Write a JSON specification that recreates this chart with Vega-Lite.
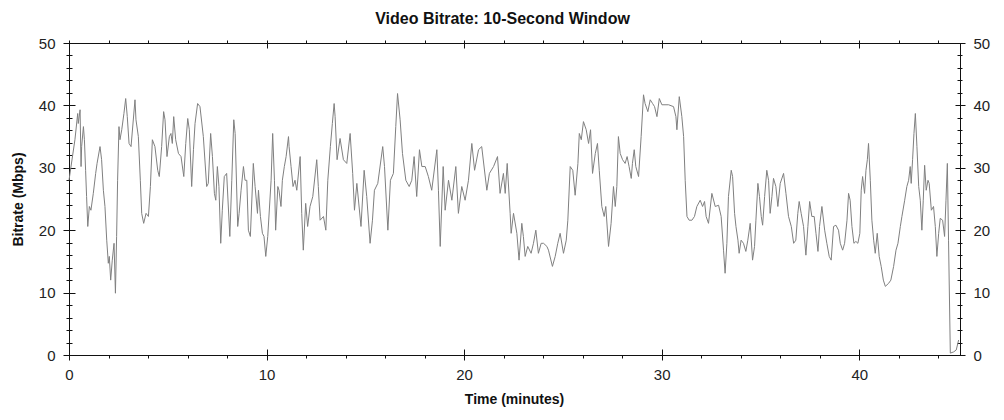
{
"$schema": "https://vega.github.io/schema/vega-lite/v6.json",
"autosize": {"type": "none"},
"padding": {"left": 69, "top": 43, "right": 44, "bottom": 65},
"width": 891,
"height": 312,
"background": "#ffffff",
"title": {"text": "Video Bitrate: 10-Second Window", "fontSize": 16, "fontWeight": "bold", "font": "Liberation Sans", "anchor": "middle", "dx": -12, "offset": 1, "baseline": "middle", "color": "#111"},
"data": {"values": [
{"t":0,"v":28.0},{"t":0.30,"v":34.5},{"t":0.44,"v":38.7},{"t":0.47,"v":37.1},{"t":0.56,"v":39.3},{"t":0.61,"v":30.2},{"t":0.64,"v":33.4},{"t":0.73,"v":36.6},{"t":0.78,"v":34.5},{"t":0.84,"v":29.6},{"t":0.89,"v":25.4},{"t":0.95,"v":20.6},{"t":1.03,"v":23.8},{"t":1.11,"v":23.2},{"t":1.23,"v":25.9},{"t":1.35,"v":29.1},{"t":1.42,"v":30.7},{"t":1.57,"v":33.4},{"t":1.65,"v":31.3},{"t":1.74,"v":26.4},{"t":1.82,"v":23.8},{"t":1.91,"v":18.4},{"t":1.99,"v":14.7},{"t":2.04,"v":15.8},{"t":2.11,"v":12.0},{"t":2.19,"v":15.2},{"t":2.28,"v":17.9},{"t":2.35,"v":9.9},{"t":2.41,"v":19.0},{"t":2.46,"v":28.0},{"t":2.53,"v":36.6},{"t":2.58,"v":34.5},{"t":2.67,"v":36.1},{"t":2.78,"v":38.7},{"t":2.87,"v":41.1},{"t":2.95,"v":38.2},{"t":3.04,"v":33.9},{"t":3.14,"v":33.4},{"t":3.34,"v":40.9},{"t":3.39,"v":37.7},{"t":3.51,"v":35.0},{"t":3.61,"v":28.0},{"t":3.68,"v":22.7},{"t":3.78,"v":21.1},{"t":3.90,"v":22.7},{"t":4.02,"v":22.2},{"t":4.12,"v":27.0},{"t":4.22,"v":34.5},{"t":4.35,"v":33.4},{"t":4.49,"v":29.6},{"t":4.57,"v":28.6},{"t":4.69,"v":33.4},{"t":4.79,"v":39.0},{"t":4.86,"v":37.7},{"t":4.96,"v":31.8},{"t":5.08,"v":35.0},{"t":5.16,"v":35.5},{"t":5.23,"v":33.9},{"t":5.30,"v":38.2},{"t":5.40,"v":34.5},{"t":5.54,"v":32.3},{"t":5.67,"v":31.8},{"t":5.81,"v":28.6},{"t":5.91,"v":33.9},{"t":6.01,"v":37.9},{"t":6.09,"v":36.1},{"t":6.21,"v":27.0},{"t":6.30,"v":32.9},{"t":6.38,"v":37.1},{"t":6.51,"v":40.3},{"t":6.63,"v":39.8},{"t":6.80,"v":35.0},{"t":6.97,"v":27.0},{"t":7.05,"v":27.5},{"t":7.17,"v":35.5},{"t":7.26,"v":31.8},{"t":7.36,"v":25.9},{"t":7.43,"v":24.8},{"t":7.51,"v":30.2},{"t":7.59,"v":27.0},{"t":7.68,"v":17.9},{"t":7.76,"v":23.2},{"t":7.86,"v":28.6},{"t":7.98,"v":29.1},{"t":8.14,"v":19.0},{"t":8.24,"v":28.0},{"t":8.34,"v":37.7},{"t":8.41,"v":35.5},{"t":8.54,"v":20.6},{"t":8.61,"v":22.7},{"t":8.71,"v":26.4},{"t":8.83,"v":30.2},{"t":8.91,"v":28.0},{"t":9.00,"v":28.0},{"t":9.08,"v":20.0},{"t":9.18,"v":19.0},{"t":9.33,"v":30.7},{"t":9.42,"v":27.0},{"t":9.54,"v":22.7},{"t":9.59,"v":26.4},{"t":9.69,"v":22.2},{"t":9.79,"v":19.5},{"t":9.87,"v":19.0},{"t":9.96,"v":15.8},{"t":10.06,"v":19.0},{"t":10.23,"v":28.0},{"t":10.31,"v":35.5},{"t":10.40,"v":28.0},{"t":10.46,"v":20.0},{"t":10.57,"v":27.0},{"t":10.63,"v":26.4},{"t":10.73,"v":23.8},{"t":10.80,"v":28.0},{"t":10.90,"v":30.2},{"t":10.99,"v":31.8},{"t":11.11,"v":35.0},
{"t":11.14,"v":33.4},{"t":11.24,"v":30.2},{"t":11.34,"v":27.0},{"t":11.44,"v":28.0},{"t":11.53,"v":26.4},{"t":11.70,"v":31.8},{"t":11.78,"v":22.7},{"t":11.86,"v":16.8},{"t":11.98,"v":24.3},{"t":12.08,"v":20.6},{"t":12.20,"v":23.8},{"t":12.34,"v":25.4},{"t":12.54,"v":31.3},{"t":12.62,"v":27.0},{"t":12.71,"v":21.6},{"t":12.88,"v":22.2},{"t":13.00,"v":20.0},{"t":13.10,"v":28.0},{"t":13.23,"v":33.4},{"t":13.33,"v":37.1},{"t":13.42,"v":40.3},{"t":13.47,"v":38.2},{"t":13.57,"v":31.3},{"t":13.72,"v":34.7},{"t":13.89,"v":31.3},{"t":14.06,"v":30.7},{"t":14.23,"v":35.5},{"t":14.36,"v":29.1},{"t":14.45,"v":23.2},{"t":14.57,"v":27.5},{"t":14.78,"v":20.6},{"t":14.94,"v":29.6},{"t":15.07,"v":25.4},{"t":15.24,"v":17.9},{"t":15.36,"v":21.6},{"t":15.46,"v":26.4},{"t":15.63,"v":27.5},{"t":15.88,"v":33.4},{"t":15.97,"v":30.2},{"t":16.14,"v":20.0},{"t":16.27,"v":28.0},{"t":16.42,"v":29.1},{"t":16.54,"v":36.6},{"t":16.63,"v":41.9},{"t":16.76,"v":37.7},{"t":16.88,"v":32.3},{"t":17.05,"v":28.0},{"t":17.22,"v":27.0},{"t":17.35,"v":28.0},{"t":17.47,"v":31.8},{"t":17.60,"v":25.4},{"t":17.74,"v":32.9},{"t":17.86,"v":30.2},{"t":18.03,"v":30.2},{"t":18.19,"v":28.6},{"t":18.36,"v":26.4},{"t":18.62,"v":32.9},{"t":18.70,"v":26.4},{"t":18.79,"v":17.4},{"t":18.94,"v":30.2},{"t":19.04,"v":23.2},{"t":19.21,"v":28.0},{"t":19.38,"v":24.8},{"t":19.58,"v":30.2},{"t":19.71,"v":22.7},{"t":19.88,"v":27.0},{"t":20.05,"v":24.8},{"t":20.22,"v":28.0},{"t":20.39,"v":33.9},{"t":20.53,"v":29.6},{"t":20.73,"v":32.9},{"t":20.89,"v":33.4},{"t":21.15,"v":26.4},{"t":21.28,"v":29.1},{"t":21.49,"v":30.2},{"t":21.69,"v":31.8},{"t":21.82,"v":25.9},{"t":21.99,"v":29.1},{"t":22.08,"v":25.9},{"t":22.18,"v":30.7},
{"t":22.33,"v":22.7},{"t":22.38,"v":19.5},{"t":22.50,"v":22.7},{"t":22.67,"v":19.5},{"t":22.78,"v":15.2},{"t":22.92,"v":21.1},{"t":23.00,"v":19.0},{"t":23.09,"v":15.8},{"t":23.22,"v":17.4},{"t":23.39,"v":16.3},{"t":23.51,"v":17.9},{"t":23.63,"v":20.0},{"t":23.76,"v":16.3},{"t":23.90,"v":17.9},{"t":24.02,"v":17.9},{"t":24.19,"v":17.4},{"t":24.27,"v":16.8},{"t":24.47,"v":14.2},{"t":24.61,"v":15.8},{"t":24.74,"v":17.9},{"t":24.86,"v":19.5},{"t":25.03,"v":16.3},{"t":25.17,"v":18.4},{"t":25.25,"v":21.6},{"t":25.37,"v":30.2},{"t":25.50,"v":29.6},{"t":25.62,"v":25.6},{"t":25.76,"v":30.7},{"t":25.83,"v":35.5},{"t":25.93,"v":34.5},{"t":26.04,"v":37.4},{"t":26.18,"v":36.1},{"t":26.30,"v":33.9},{"t":26.40,"v":36.1},{"t":26.50,"v":29.1},{"t":26.64,"v":32.3},{"t":26.75,"v":33.9},{"t":26.84,"v":29.6},{"t":26.97,"v":23.8},{"t":27.09,"v":22.2},{"t":27.17,"v":23.8},{"t":27.31,"v":17.4},{"t":27.44,"v":21.1},{"t":27.56,"v":27.0},{"t":27.65,"v":23.8},{"t":27.73,"v":27.0},{"t":27.81,"v":35.0},{"t":27.90,"v":32.3},{"t":28.02,"v":31.3},{"t":28.15,"v":30.7},{"t":28.25,"v":31.8},{"t":28.35,"v":30.2},{"t":28.46,"v":28.3},{"t":28.52,"v":30.7},{"t":28.61,"v":32.9},{"t":28.69,"v":30.2},{"t":28.83,"v":28.6},{"t":28.96,"v":35.0},{"t":29.08,"v":41.7},{"t":29.16,"v":40.3},{"t":29.30,"v":39.0},{"t":29.42,"v":40.9},{"t":29.54,"v":40.3},{"t":29.64,"v":39.8},{"t":29.76,"v":38.2},{"t":29.88,"v":41.1},{"t":30.01,"v":40.1},{"t":30.35,"v":40.1},{"t":30.60,"v":39.8},{"t":30.72,"v":38.2},{"t":30.77,"v":36.1},{"t":30.89,"v":41.4},{"t":31.02,"v":38.2},{"t":31.11,"v":35.0},{"t":31.19,"v":28.0},{"t":31.28,"v":22.2},{"t":31.39,"v":21.6},{"t":31.53,"v":21.6},{"t":31.66,"v":22.2},{"t":31.78,"v":23.8},{"t":31.95,"v":24.8},{"t":32.07,"v":23.8},{"t":32.17,"v":24.6},{"t":32.25,"v":22.2},{"t":32.37,"v":21.1},{"t":32.54,"v":25.9},{"t":32.71,"v":23.8},{"t":32.88,"v":24.0},{"t":33.01,"v":22.2},{"t":33.13,"v":16.8},{"t":33.21,"v":13.1},
{"t":33.30,"v":17.9},{"t":33.38,"v":25.4},{"t":33.52,"v":29.6},{"t":33.59,"v":28.6},{"t":33.69,"v":22.7},{"t":33.76,"v":20.6},{"t":33.86,"v":18.4},{"t":33.92,"v":16.3},{"t":34.02,"v":18.4},{"t":34.14,"v":17.9},{"t":34.26,"v":16.6},{"t":34.36,"v":18.4},{"t":34.48,"v":21.1},{"t":34.60,"v":15.2},{"t":34.70,"v":17.4},{"t":34.77,"v":21.6},{"t":34.87,"v":27.5},{"t":34.95,"v":25.4},{"t":35.04,"v":22.2},{"t":35.11,"v":20.8},{"t":35.21,"v":25.4},{"t":35.32,"v":29.6},{"t":35.41,"v":28.0},{"t":35.49,"v":22.7},{"t":35.58,"v":25.4},{"t":35.66,"v":28.3},{"t":35.78,"v":27.0},{"t":35.88,"v":23.8},{"t":36.00,"v":27.5},{"t":36.17,"v":29.1},{"t":36.29,"v":25.9},{"t":36.42,"v":22.2},{"t":36.56,"v":20.6},{"t":36.68,"v":17.9},{"t":36.79,"v":18.4},{"t":36.89,"v":22.7},{"t":36.96,"v":24.6},{"t":37.06,"v":22.7},{"t":37.18,"v":20.6},{"t":37.30,"v":16.0},{"t":37.40,"v":20.6},{"t":37.49,"v":24.6},{"t":37.60,"v":22.2},{"t":37.72,"v":22.2},{"t":37.81,"v":19.5},{"t":37.91,"v":16.6},{"t":37.99,"v":20.6},{"t":38.11,"v":23.8},{"t":38.25,"v":20.0},{"t":38.36,"v":17.9},{"t":38.48,"v":15.8},{"t":38.58,"v":15.2},{"t":38.70,"v":20.6},{"t":38.82,"v":20.8},{"t":38.95,"v":20.0},{"t":39.04,"v":17.9},{"t":39.16,"v":16.8},{"t":39.26,"v":17.9},{"t":39.38,"v":21.6},{"t":39.46,"v":25.9},{"t":39.54,"v":24.8},{"t":39.63,"v":20.6},{"t":39.73,"v":17.9},{"t":39.83,"v":18.2},{"t":39.93,"v":17.9},{"t":40.03,"v":19.5},{"t":40.10,"v":26.4},{"t":40.17,"v":28.6},{"t":40.27,"v":25.9},{"t":40.34,"v":29.6},{"t":40.41,"v":31.3},{"t":40.47,"v":33.9},{"t":40.56,"v":28.0},{"t":40.64,"v":21.6},{"t":40.73,"v":18.4},{"t":40.81,"v":16.3},{"t":40.91,"v":19.5},{"t":41.01,"v":15.8},{"t":41.11,"v":14.2},{"t":41.22,"v":12.0},{"t":41.32,"v":11.0},{"t":41.49,"v":11.5},{"t":41.60,"v":12.0},{"t":41.74,"v":14.2},{"t":41.86,"v":16.8},{"t":41.96,"v":17.9},{"t":42.08,"v":20.6},{"t":42.16,"v":22.2},{"t":42.30,"v":24.8},{"t":42.41,"v":27.0},{"t":42.50,"v":28.0},{"t":42.58,"v":30.2},{"t":42.63,"v":27.5},{"t":42.70,"v":31.3},{"t":42.77,"v":35.5},{"t":42.84,"v":38.7},{"t":42.92,"v":33.4},{"t":43.01,"v":27.0},{"t":43.09,"v":24.8},{"t":43.17,"v":20.0},{"t":43.24,"v":24.8},{"t":43.31,"v":30.4},{"t":43.39,"v":26.4},{"t":43.48,"v":28.0},{"t":43.54,"v":27.5},{"t":43.65,"v":23.2},{"t":43.76,"v":23.8},{"t":43.85,"v":20.6},{"t":43.93,"v":15.8},{"t":44.02,"v":19.5},{"t":44.10,"v":21.9},{"t":44.22,"v":21.6},{"t":44.32,"v":19.0},{"t":44.39,"v":24.8},{"t":44.46,"v":30.7},{"t":44.52,"v":18.4},{"t":44.61,"v":0.3},{"t":44.78,"v":0.5},{"t":44.91,"v":0.8},{"t":45.03,"v":2.4}
]},
"resolve": {"axis": {"x": "independent", "y": "independent"}},
"layer": [
{"mark": {"type": "line", "color": "#808080", "strokeWidth": 1},
 "encoding": {
  "x": {"field": "t", "type": "quantitative", "scale": {"domain": [0, 45.1], "nice": false, "zero": false},
        "axis": {"orient": "bottom", "values": [0,10,20,30,40], "ticks": false, "tickSize": 0, "labelPadding": 12, "domain": true, "title": "Time (minutes)", "titleX": 445, "titleY": 44, "titleBaseline": "middle", "labelFlush": false}},
  "y": {"field": "v", "type": "quantitative", "scale": {"domain": [0, 50], "nice": false, "zero": true},
        "axis": {"orient": "left", "values": [0,10,20,30,40,50], "ticks": false, "tickSize": 0, "labelPadding": 14, "domain": true, "title": "Bitrate (Mbps)", "titleX": -51, "titleY": 156, "titleAngle": 270, "titleBaseline": "middle", "labelFlush": false}}
 }},
{"mark": {"type": "line", "strokeOpacity": 0},
 "encoding": {
  "x": {"field": "t", "type": "quantitative", "axis": {"orient": "bottom", "values": [0,10,20,30,40], "offset": -6, "tickSize": 11, "domain": false, "labels": false, "title": null}},
  "y": {"field": "v", "type": "quantitative", "axis": {"orient": "left", "values": [0,10,20,30,40,50], "offset": -6, "tickSize": 12, "domain": false, "labels": false, "title": null}}
 }},
{"mark": {"type": "line", "strokeOpacity": 0},
 "encoding": {
  "x": {"field": "t", "type": "quantitative", "axis": {"orient": "bottom", "values": [2,4,6,8,12,14,16,18,22,24,26,28,32,34,36,38,42,44], "tickSize": 3, "domain": false, "labels": false, "title": null}},
  "y": {"field": "v", "type": "quantitative", "axis": {"orient": "left", "values": [2,4,6,8,12,14,16,18,22,24,26,28,32,34,36,38,42,44,46,48], "offset": -3, "tickSize": 6, "domain": false, "labels": false, "title": null}}
 }},
{"mark": {"type": "line", "strokeOpacity": 0},
 "encoding": {
  "x": {"field": "t", "type": "quantitative", "axis": {"orient": "top", "values": [0,2,4,6,8,10,12,14,16,18,20,22,24,26,28,30,32,34,36,38,40,42,44], "tickSize": 3, "domain": true, "labels": false, "title": null}},
  "y": {"field": "v", "type": "quantitative", "axis": {"orient": "right", "values": [0,10,20,30,40,50], "ticks": false, "tickSize": 0, "labelPadding": 13, "domain": true, "title": null, "labelFlush": false}}
 }},
{"mark": {"type": "line", "strokeOpacity": 0},
 "encoding": {
  "x": {"field": "t", "type": "quantitative", "axis": {"orient": "top", "values": [10,20,30,40], "offset": -5, "tickSize": 5, "domain": false, "labels": false, "title": null}},
  "y": {"field": "v", "type": "quantitative", "axis": {"orient": "right", "values": [0,10,20,30,40,50], "offset": -5, "tickSize": 10, "domain": false, "labels": false, "title": null}}
 }},
{"mark": {"type": "line", "strokeOpacity": 0},
 "encoding": {
  "x": {"field": "t", "type": "quantitative", "axis": null},
  "y": {"field": "v", "type": "quantitative", "axis": {"orient": "right", "values": [2,4,6,8,12,14,16,18,22,24,26,28,32,34,36,38,42,44,46,48], "offset": -3, "tickSize": 5, "domain": false, "labels": false, "title": null}}
 }}
],
"config": {
 "view": {"stroke": null},
 "axis": {"grid": false, "labelFont": "Liberation Sans", "titleFont": "Liberation Sans", "labelFontSize": 15, "titleFontSize": 14, "titleFontWeight": "bold", "labelColor": "#222", "titleColor": "#111", "tickColor": "#111", "domainColor": "#111", "tickWidth": 1, "domainWidth": 1, "labelOverlap": false}
}
}
